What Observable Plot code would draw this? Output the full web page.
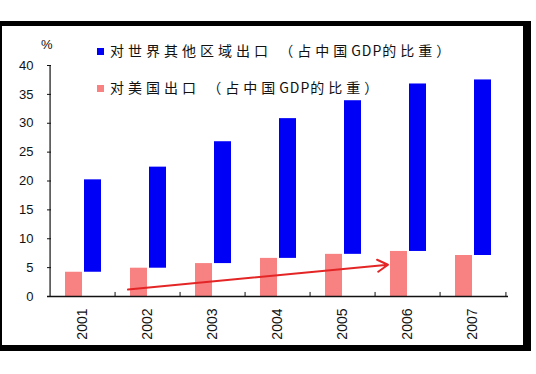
<!DOCTYPE html>
<html>
<head>
<meta charset="utf-8">
<script src="https://cdn.jsdelivr.net/npm/d3@7"></script>
<script src="https://cdn.jsdelivr.net/npm/@observablehq/plot@0.6"></script>
<style>
  html, body { margin: 0; padding: 0; background: white; }
  #wrap { position: relative; width: 536px; height: 374px; overflow: hidden; background: white; }
  #chart { position: absolute; left: 0; top: 0; }
  #frame { position: absolute; left: -3px; top: 21px; width: 534px; height: 330px; box-sizing: border-box;
           border-style: solid; border-color: #000; border-width: 5px 8px 6px 5px; pointer-events: none; }
  .leg { position: absolute; left: 97px; font-family: "Noto Sans CJK SC", sans-serif; font-size: 14px;
         letter-spacing: 4px; color: #111; white-space: nowrap; line-height: 16px; }
  .leg .lat { letter-spacing: 1px; }
  .sw { display: inline-block; width: 7px; height: 7px; margin-right: 6px; vertical-align: 1px; }
  #pct { position: absolute; left: 41px; top: 37px; font-family: "Liberation Sans", Arial, sans-serif; font-size: 13px; color: #111; }
</style>
</head>
<body>
<div id="wrap">
  <div id="chart"></div>
  <div id="pct">%</div>
  <div class="leg" id="leg1" style="top:42px"></div>
  <div class="leg" id="leg2" style="top:79px"></div>
  <div id="frame"></div>
</div>
<script>
// ---- data ----
const years = ["2001", "2002", "2003", "2004", "2005", "2006", "2007"];
const usShare = [4.2, 4.9, 5.7, 6.6, 7.3, 7.8, 7.1];          // 对美国出口（占中国GDP的比重）
const restShare = [16.0, 17.5, 21.1, 24.2, 26.6, 29.0, 30.4]; // 对世界其他区域出口（占中国GDP的比重）
const yTicks = [0, 5, 10, 15, 20, 25, 30, 35, 40];
const seriesNames = ["对世界其他区域出口 （占中国GDP的比重）", "对美国出口 （占中国GDP的比重）"];
const seriesColors = ["#0000f6", "#f88282"];
const trendFrom = ["2002", 1.2];
const trendTo = ["2006", 5.5];

const data = years.map((y, i) => ({year: y, us: usShare[i], rest: restShare[i], top: usShare[i] + restShare[i]}));

const plot = Plot.plot({
  width: 536,
  height: 374,
  marginLeft: 47,
  marginRight: 28,
  marginTop: 65,
  marginBottom: 78,
  style: {background: "transparent", fontFamily: "Liberation Sans, Arial, sans-serif", fontSize: "13px", color: "#111"},
  x: {domain: years, padding: 0},
  y: {domain: [0, 40]},
  marks: [
    Plot.barY(data, {x: "year", y1: 0, y2: "us", fill: seriesColors[1], insetLeft: 15, insetRight: 33}),
    Plot.barY(data, {x: "year", y1: "us", y2: "top", fill: seriesColors[0], insetLeft: 34, insetRight: 14}),
    Plot.ruleY([0], {stroke: "#111", strokeWidth: 1.5}),
    Plot.ruleX([years[0]], {y1: 0, y2: 40, dx: -32.93, stroke: "#111", strokeWidth: 1.2}),
    Plot.ruleX(years.slice(1), {y1: 0, y2: 0.7, dx: -32.93, stroke: "#111"}),
    Plot.ruleX([years[years.length - 1]], {y1: 0, y2: 0.7, dx: 32.93, stroke: "#111"}),
    Plot.axisY({ticks: yTicks, tickSize: -4, tickPadding: 18, label: null, fontSize: 13}),
    Plot.axisX({tickSize: 0, tickRotate: -90, tickPadding: 12, label: null, fontSize: 14}),
    Plot.arrow([{x1: trendFrom[0], y1: trendFrom[1], x2: trendTo[0], y2: trendTo[1]}],
      {x1: "x1", y1: "y1", x2: "x2", y2: "y2", dx: -20, stroke: "#e42525", strokeWidth: 2, headLength: 9})
  ]
});
document.getElementById("chart").appendChild(plot);

const fmt = s => s.replace("GDP", '<span class="lat">GDP</span>');
document.getElementById("leg1").innerHTML = `<span class="sw" style="background:${seriesColors[0]}"></span>${fmt(seriesNames[0])}`;
document.getElementById("leg2").innerHTML = `<span class="sw" style="background:${seriesColors[1]}"></span>${fmt(seriesNames[1])}`;
</script>
</body>
</html>
